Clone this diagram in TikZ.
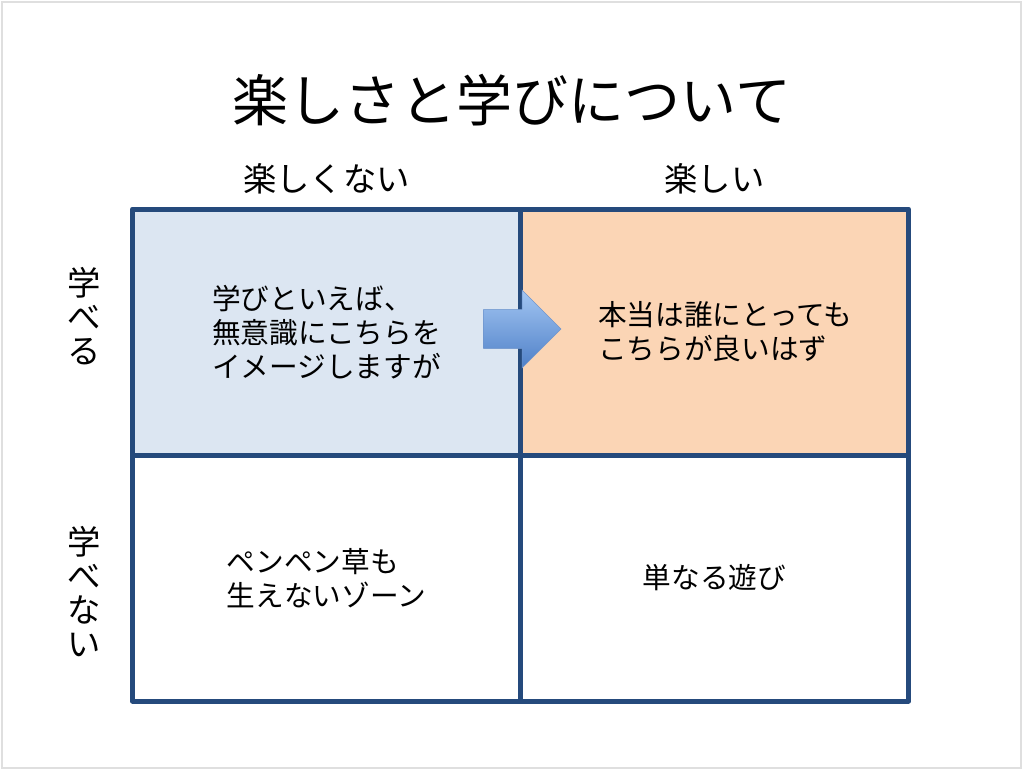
\documentclass[tikz,border=0pt]{standalone}
\usepackage{fontspec}
\setmainfont{Noto Sans CJK JP}
\usepackage{xcolor}
\usetikzlibrary{positioning, shapes.arrows}
\definecolor{gridblue}{HTML}{254A7C}
\definecolor{paleblue}{HTML}{DCE6F2}
\definecolor{peach}{HTML}{FBD5B5}
\definecolor{arrowtop}{HTML}{A3C6F2}
\definecolor{arrowbot}{HTML}{4F80C8}
\definecolor{arrowline}{HTML}{6E94CC}

\begin{document}
\begin{tikzpicture}[
  x=0.75pt, y=-0.75pt,
  node distance=0pt,
  cell/.style={draw=gridblue, line width=3.75pt, line join=round, outer sep=0pt, inner sep=0pt,
    minimum width=291pt, minimum height=184.5pt, align=left,
    font=\fontsize{21.5}{25.5}\selectfont},
  colhead/.style={font=\fontsize{25}{28}\selectfont},
  rowhead/.style={align=center, font=\fontsize{25}{25.5}\selectfont},
  bigarrow/.style={single arrow, single arrow head extend=14.5pt, single arrow head indent=0pt,
    minimum height=58pt, inner xsep=0pt, inner ysep=14.5pt, draw=arrowline,
    top color=arrowtop, bottom color=arrowbot}
]
\useasboundingbox (0,0) rectangle (1024,771);
\draw[gray!25, line width=1.2pt] (2,2) rectangle (1021,768);

\node (title) at (512,100) {\fontsize{42}{48}\selectfont 楽しさと学びについて};

\node[cell, fill=paleblue] (learnbore) at (326.5,332) {学びといえば、\\無意識にこちらを\\イメージしますが};
\node[cell, fill=peach, right=of learnbore] (learnfun) {\hspace*{16pt}本当は誰にとっても\\\hspace*{16pt}こちらが良いはず};
\node[cell, below=of learnbore] (nolearnbore) {ペンペン草も\\生えないゾーン};
\node[cell, right=of nolearnbore] (nolearnfun) {単なる遊び};

\node[colhead, above=8pt of learnbore] (hbore) {楽しくない};
\node[colhead, above=8pt of learnfun] (hfun) {楽しい};
\node[rowhead, left=20pt of learnbore.west, yshift=12pt] (hlearn) {学\\べ\\る};
\node[rowhead, left=20pt of nolearnbore.west, yshift=-10pt] (hnolearn) {学\\べ\\な\\い};

\node[bigarrow] (move) at (512.5,329) {};
\end{tikzpicture}
\end{document}
